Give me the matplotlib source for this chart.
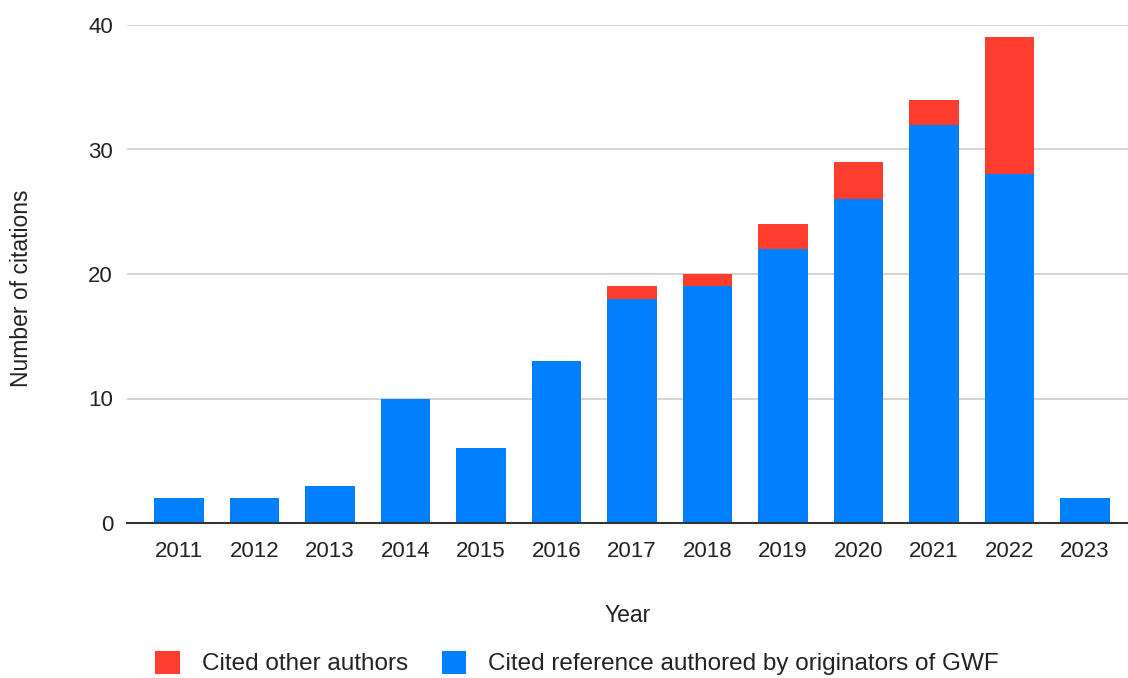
import matplotlib
matplotlib.use("Agg")
import matplotlib.pyplot as plt
from matplotlib.patches import Patch

years = ["2011", "2012", "2013", "2014", "2015", "2016", "2017", "2018", "2019", "2020", "2021", "2022", "2023"]
originators = [2, 2, 3, 10, 6, 13, 18, 19, 22, 26, 32, 28, 2]
other_authors = [0, 0, 0, 0, 0, 0, 1, 1, 2, 3, 2, 11, 0]
yticks = [0, 10, 20, 30, 40]

blue = "#0080FF"
red = "#FF3D2E"

plt.rcParams['font.family'] = ['Liberation Sans', 'DejaVu Sans']

fig = plt.figure(figsize=(11.28, 6.78), dpi=100)
ax = fig.add_axes([127/1128, 155/678, 1001/1128, 498/678])

x = list(range(len(years)))
ax.bar(x, originators, width=0.66, color=blue, zorder=3)
ax.bar(x, other_authors, width=0.66, bottom=originators, color=red, zorder=3)

ax.set_ylim(0, 40)
ax.set_xlim(-0.69, 12.57)
ax.set_yticks(yticks)
ax.set_xticks(x)
ax.set_xticklabels(years)
ax.tick_params(axis='both', length=0, labelsize=16, colors="#222222")
ax.tick_params(axis='y', pad=10)
ax.tick_params(axis='x', pad=13)
ax.grid(axis='y', color="#cccccc", linewidth=1.2, zorder=0)
for s in ["top", "right", "left"]:
    ax.spines[s].set_visible(False)
ax.spines["bottom"].set_color("#333333")
ax.spines["bottom"].set_linewidth(1.5)
ax.spines["bottom"].set_zorder(4)

ax.set_xlabel("Year", fontsize=16.5, color="#222222", labelpad=30)
fig.text(22/1128, 1 - 288/678, "Number of citations", rotation=90, fontsize=16.5,
         color="#222222", ha="center", va="center")

handles = [Patch(facecolor=red, edgecolor='none', label="Cited other authors"),
           Patch(facecolor=blue, edgecolor='none', label="Cited reference authored by originators of GWF")]
fig.legend(handles=handles, loc="center", bbox_to_anchor=(577/1128, 1 - 663/678), ncol=2,
           frameon=False, fontsize=17.5, handlelength=1.0, handleheight=1.1,
           columnspacing=1.4, handletextpad=0.9, labelcolor="#222222")

fig.savefig("out.png", dpi=100)
